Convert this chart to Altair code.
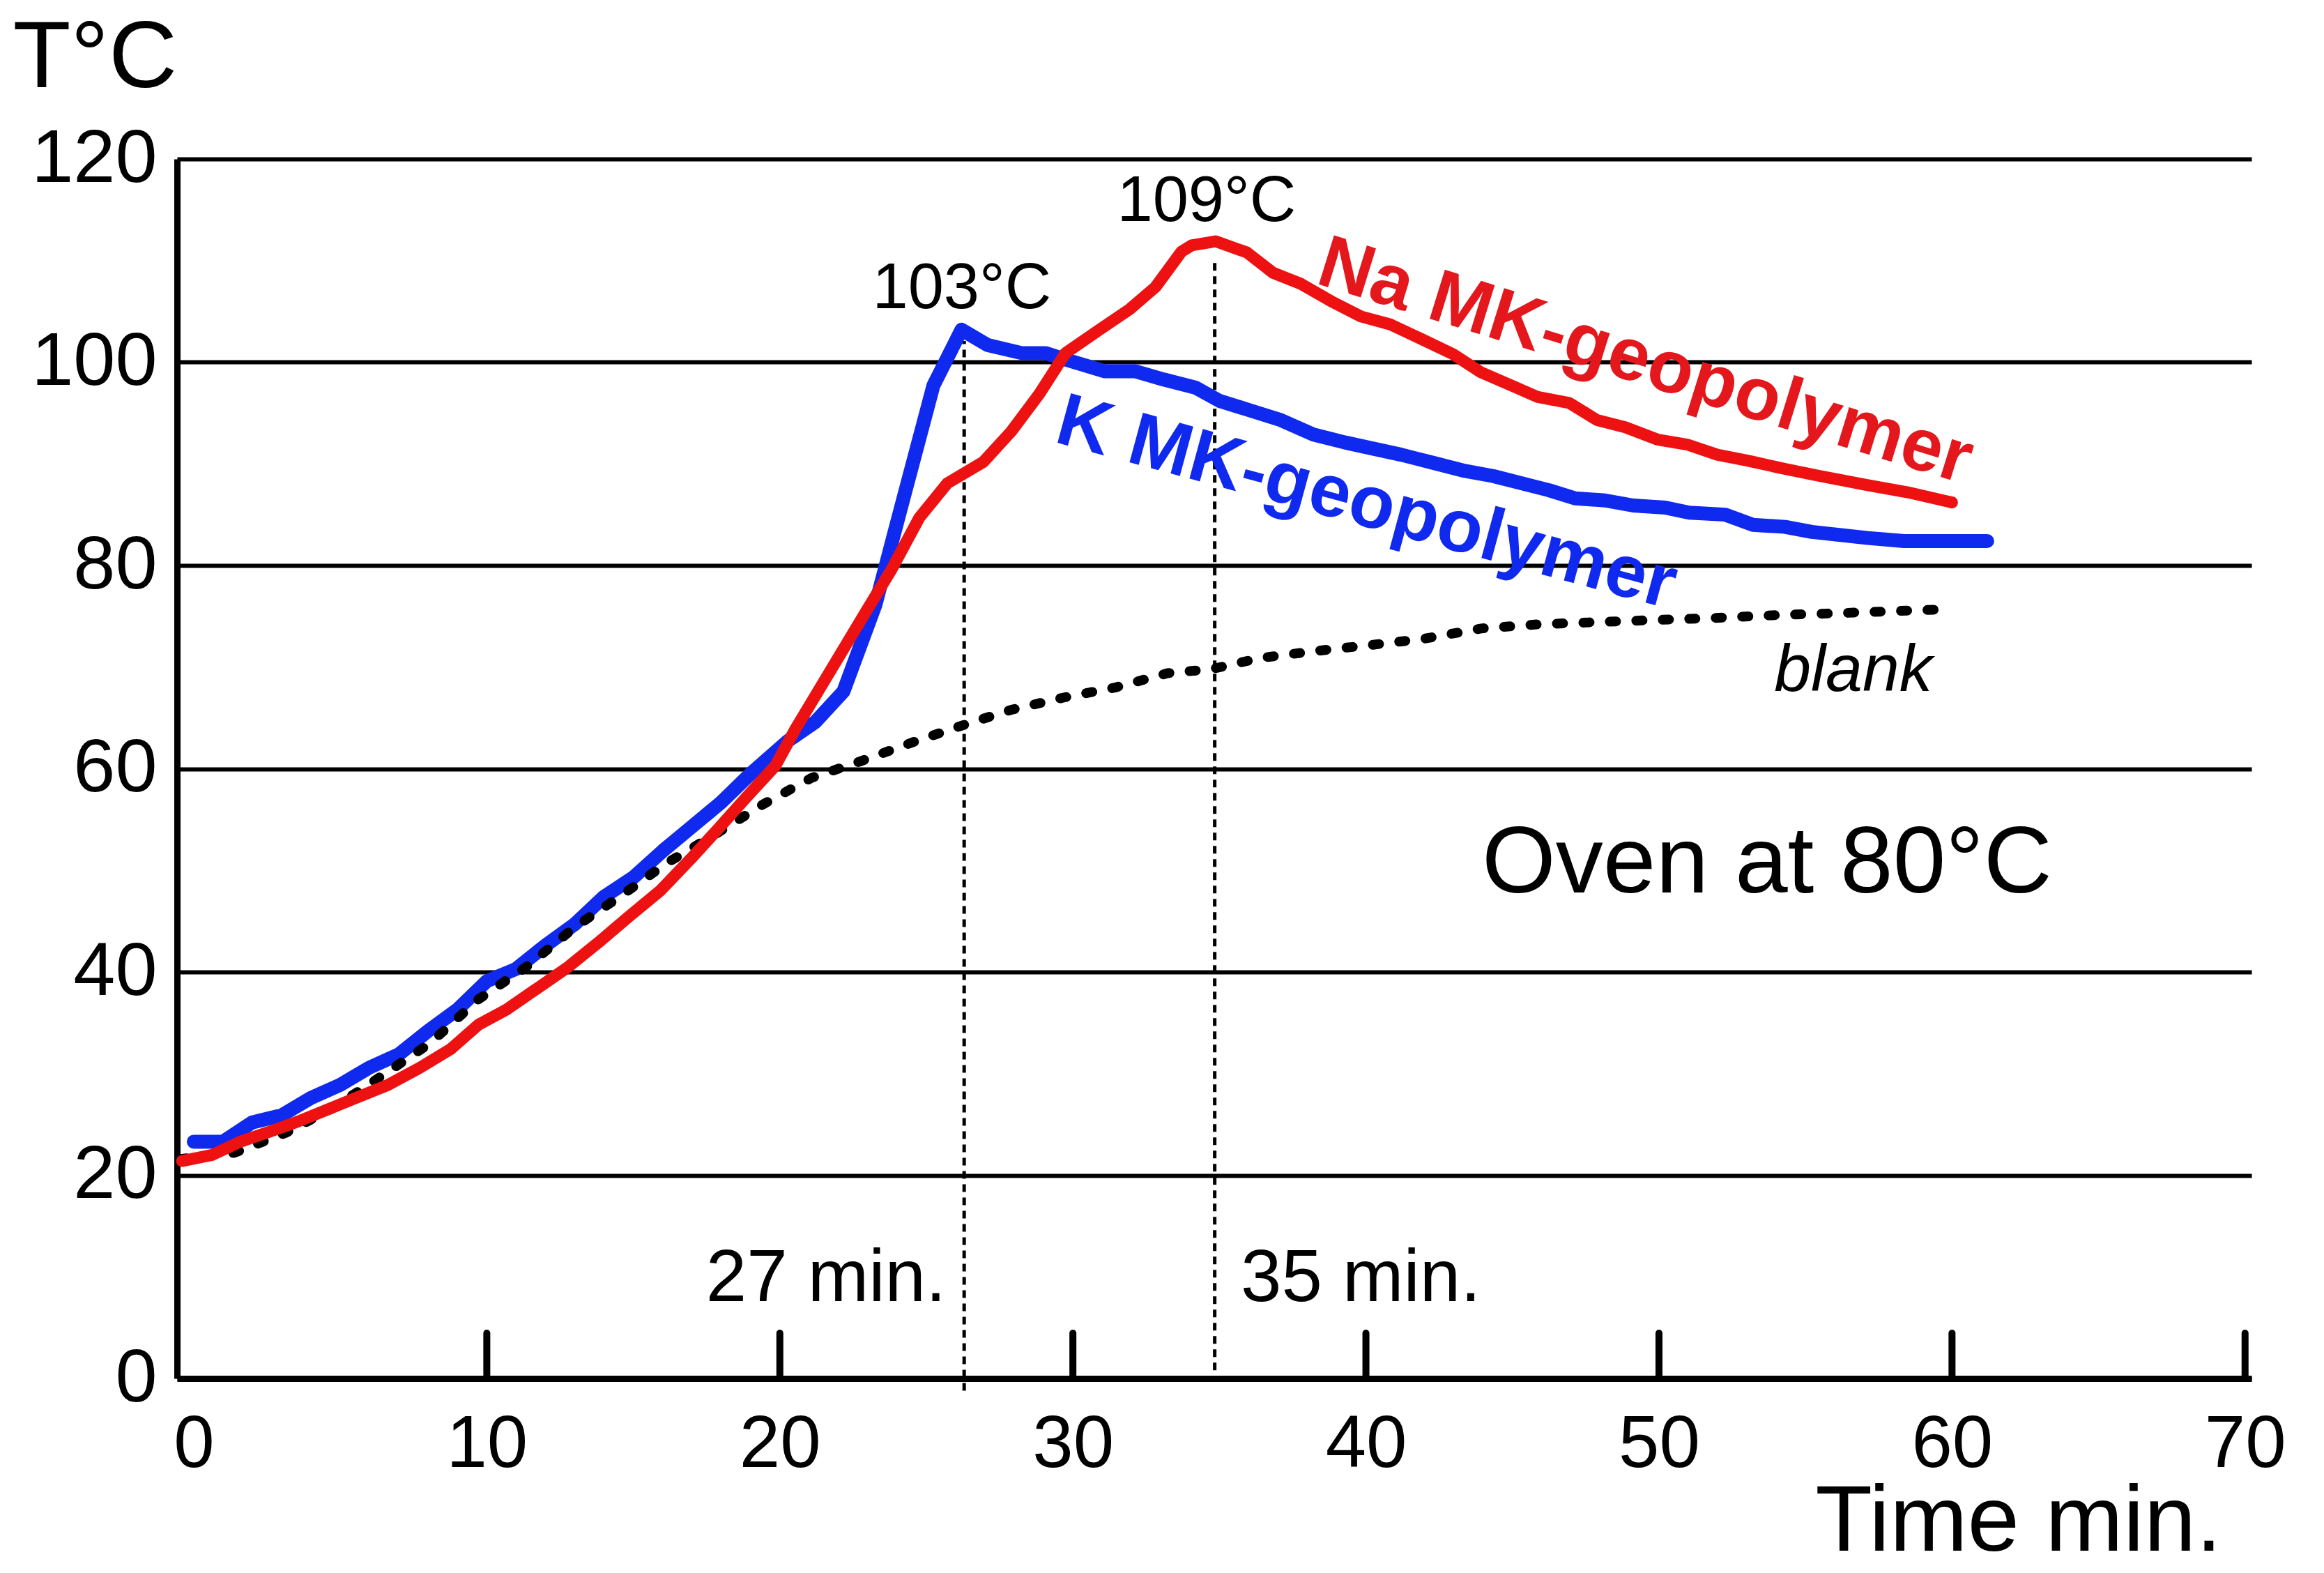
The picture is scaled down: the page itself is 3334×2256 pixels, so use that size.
import altair as alt
import pandas as pd

# ---------------- data ----------------
k_time = [0, 1, 2, 3, 4, 5, 6, 7, 8, 9, 10, 11, 12, 13, 14, 15, 16, 17, 18, 19,
          20.26, 21.21, 22.17, 23.26, 24.08, 25.24, 26.2, 27.08, 28.25, 29.06, 29.82,
          31.1, 32.14, 33.1, 34.19, 35.0, 36.0, 37.1, 38.19, 39.29, 40.24, 41.2,
          42.29, 43.38, 44.34, 45.43, 46.25, 47.14, 48.16, 49.12, 50.21, 51.03,
          52.26, 53.2, 54.3, 55.22, 57.13, 58.36, 61.2]
k_temp = [23.3, 23.3, 25.2, 25.9, 27.6, 28.9, 30.6, 31.9, 34.2, 36.3, 39.1, 40.3,
          42.6, 44.7, 47.4, 49.3, 51.9, 54.3, 56.7, 59.5,
          62.7, 64.6, 67.6, 76.1, 85.1, 97.7, 103.2, 101.7, 100.9, 100.9, 100.2,
          99.1, 99.1, 98.3, 97.5, 96.2, 95.3, 94.3, 92.9, 92.1, 91.5, 90.9,
          90.1, 89.3, 88.8, 88.0, 87.4, 86.6, 86.4, 85.9, 85.7, 85.2,
          85.0, 84.0, 83.8, 83.3, 82.7, 82.4, 82.4]

na_time = [-0.4, 0.63, 1.59, 2.61, 3.57, 4.59, 5.61, 6.64, 7.73, 8.76, 9.71, 10.67,
           11.83, 12.78, 13.81, 14.83, 15.92, 16.95, 17.9, 18.86, 19.85, 20.53,
           21.76, 22.99, 23.81, 24.76, 25.72, 26.95, 27.9, 28.86, 29.75, 30.91,
           31.93, 32.82, 33.71, 34.05, 34.87, 35.94, 36.83, 37.79, 38.88, 39.83,
           40.85, 41.88, 42.97, 43.93, 44.89, 45.84, 46.93, 47.89, 48.85, 49.94,
           50.96, 51.99, 53.05, 54.3, 55.5, 57.13, 58.49, 60.0]
na_temp = [21.4, 22.0, 23.3, 24.3, 25.3, 26.5, 27.7, 28.9, 30.6, 32.4, 34.8, 36.3,
           38.6, 40.5, 42.9, 45.4, 48.0, 51.1, 54.1, 57.2, 60.3, 63.9,
           69.8, 75.7, 79.6, 84.7, 88.1, 90.2, 93.2, 96.9, 100.9, 103.2,
           105.2, 107.4, 110.9, 111.5, 111.9, 110.8, 108.8, 107.7, 105.9, 104.5,
           103.7, 102.3, 100.8, 99.0, 97.8, 96.6, 96.0, 94.3, 93.6, 92.4,
           91.9, 90.9, 90.3, 89.5, 88.8, 87.9, 87.2, 86.2]

blank_time = [-0.45, 1.38, 3.16, 4.8, 6.43, 8.07, 9.71, 11.35, 13.0, 14.63, 16.13,
              17.77, 19.43, 21.08, 22.72, 24.63, 26.27, 27.9, 29.68, 31.46, 33.23,
              34.73, 36.4, 38.33, 40.24, 42.0, 43.93, 45.84, 47.62, 49.53, 51.6,
              53.85, 56.04, 57.95, 59.86]
blank_temp = [21.6, 22.2, 24.2, 26.7, 29.8, 33.0, 37.3, 40.5, 44.4, 47.6, 50.7,
              53.5, 56.5, 59.1, 60.7, 62.7, 64.3, 65.8, 67.0, 68.0, 69.4,
              69.8, 70.9, 71.6, 72.2, 72.8, 73.8, 74.2, 74.4, 74.6, 74.8,
              75.1, 75.3, 75.5, 75.7]

x_ticks = [0, 10, 20, 30, 40, 50, 60, 70]
y_ticks = [0, 20, 40, 60, 80, 100, 120]
inner_ticks = [10, 20, 30, 40, 50, 60, 70]

marker_time = [26.29, 34.84]
marker_low = [-1.2, 0.8]
marker_high = [102.1, 110.1]

peak_labels = ["103°C", "109°C"]
peak_label_t = [26.21, 34.56]
peak_label_T = [105.3, 113.9]

min_left_label = ["27 min."]
min_left_t = [25.67]
min_right_label = ["35 min."]
min_right_t = [35.73]
min_T = [7.6]

# ---------------- styling ----------------
FONT = "Liberation Sans"
BLUE = "#1029ef"
RED = "#ee1111"
RED_TXT = "#e3171c"

x_scale = alt.Scale(domain=[-0.57, 70.22], nice=False, zero=False)
y_scale = alt.Scale(domain=[0, 120], nice=False, zero=False)

x_axis = alt.Axis(values=x_ticks, title="Time min.", grid=False, ticks=False, tickSize=0,
                  domain=True, domainColor="black", domainWidth=9,
                  labelFont=FONT, labelFontSize=105, labelColor="black", labelPadding=43,
                  labelAngle=0, labelFlush=False, labelOverlap=False, labelLimit=600,
                  titleFont=FONT, titleFontSize=134, titleFontWeight="normal",
                  titleColor="black", titleAlign="right", titleBaseline="alphabetic",
                  titleX=2933, titleY=246, titleLimit=2000)
y_axis = alt.Axis(values=y_ticks, title="T°C", grid=True, gridColor="black", gridWidth=6,
                  gridOpacity=1, ticks=False, tickSize=0,
                  domain=True, domainColor="black", domainWidth=9,
                  labelFont=FONT, labelFontSize=108, labelColor="black", labelPadding=29,
                  labelFlush=False, labelOverlap=False, labelLimit=600,
                  titleFont=FONT, titleFontSize=136, titleFontWeight="normal",
                  titleColor="black", titleAngle=0, titleAlign="left",
                  titleBaseline="alphabetic", titleX=-236, titleY=-104, titleLimit=2000)

X = alt.X("t:Q", scale=x_scale, axis=x_axis)
Y = alt.Y("T:Q", scale=y_scale, axis=y_axis)

k_df = pd.DataFrame({"t": k_time, "T": k_temp})
na_df = pd.DataFrame({"t": na_time, "T": na_temp})
blank_df = pd.DataFrame({"t": blank_time, "T": blank_temp})

blue_line = alt.Chart(k_df).mark_line(color=BLUE, strokeWidth=20, strokeCap="round",
                                      strokeJoin="round").encode(x=X, y=Y)
blank_line = alt.Chart(blank_df).mark_line(color="black", strokeWidth=14, strokeCap="round",
                                           strokeDash=[9, 29]).encode(x=X, y=Y)
red_line = alt.Chart(na_df).mark_line(color=RED, strokeWidth=17, strokeCap="round",
                                      strokeJoin="round").encode(x=X, y=Y)

tick_df = pd.DataFrame({"t": inner_ticks, "T": [0] * len(inner_ticks),
                        "T2": [4.46] * len(inner_ticks)})
ticks = alt.Chart(tick_df).mark_rule(color="black", strokeWidth=10, strokeCap="round").encode(
    x=X, y=Y, y2="T2:Q")

marker_df = pd.DataFrame({"t": marker_time, "T": marker_low, "T2": marker_high})
markers = alt.Chart(marker_df).mark_rule(color="black", strokeWidth=5,
                                         strokeDash=[11, 8]).encode(x=X, y=Y, y2="T2:Q")

peak_df = pd.DataFrame({"t": peak_label_t, "T": peak_label_T, "label": peak_labels})
peak_text = alt.Chart(peak_df).mark_text(font=FONT, fontSize=92, align="center",
                                         baseline="alphabetic", color="black").encode(
    x=X, y=Y, text="label:N")

minl_df = pd.DataFrame({"t": min_left_t, "T": min_T, "label": min_left_label})
minl_text = alt.Chart(minl_df).mark_text(font=FONT, fontSize=105, align="right",
                                         baseline="alphabetic", color="black").encode(
    x=X, y=Y, text="label:N")
minr_df = pd.DataFrame({"t": min_right_t, "T": min_T, "label": min_right_label})
minr_text = alt.Chart(minr_df).mark_text(font=FONT, fontSize=105, align="left",
                                         baseline="alphabetic", color="black").encode(
    x=X, y=Y, text="label:N")

oven_df = pd.DataFrame({"t": [43.96], "T": [47.8], "label": ["Oven at 80°C"]})
oven_text = alt.Chart(oven_df).mark_text(font=FONT, fontSize=136, align="left",
                                         baseline="alphabetic", color="black").encode(
    x=X, y=Y, text="label:N")

blank_lab_df = pd.DataFrame({"t": [53.93], "T": [67.65], "label": ["blank"]})
blank_text = alt.Chart(blank_lab_df).mark_text(font=FONT, fontSize=95, fontStyle="italic",
                                               align="left", baseline="alphabetic",
                                               color="black").encode(x=X, y=Y, text="label:N")

k_lab_df = pd.DataFrame({"t": [29.31], "T": [92.2], "label": ["K MK-geopolymer"]})
k_text = alt.Chart(k_lab_df).mark_text(font=FONT, fontSize=107, fontWeight="bold",
                                       align="left", baseline="alphabetic", angle=15.2,
                                       color=BLUE).encode(x=X, y=Y, text="label:N")

na_lab_df = pd.DataFrame({"t": [38.23], "T": [107.8], "label": ["Na MK-geopolymer"]})
na_text = alt.Chart(na_lab_df).mark_text(font=FONT, fontSize=107, fontWeight="bold",
                                         align="left", baseline="alphabetic", angle=17.2,
                                         color=RED_TXT).encode(x=X, y=Y, text="label:N")

chart = alt.layer(
    markers, ticks, blue_line, blank_line, red_line,
    peak_text, minl_text, minr_text, oven_text, blank_text, k_text, na_text
).properties(
    width=2976, height=1749,
    padding={"left": 254, "top": 228, "right": 104, "bottom": 279},
    autosize=alt.AutoSizeParams(type="none"),
    background="white",
).configure_view(stroke=None)

chart.save("out.html", embed_options={"renderer": "svg", "actions": False})
